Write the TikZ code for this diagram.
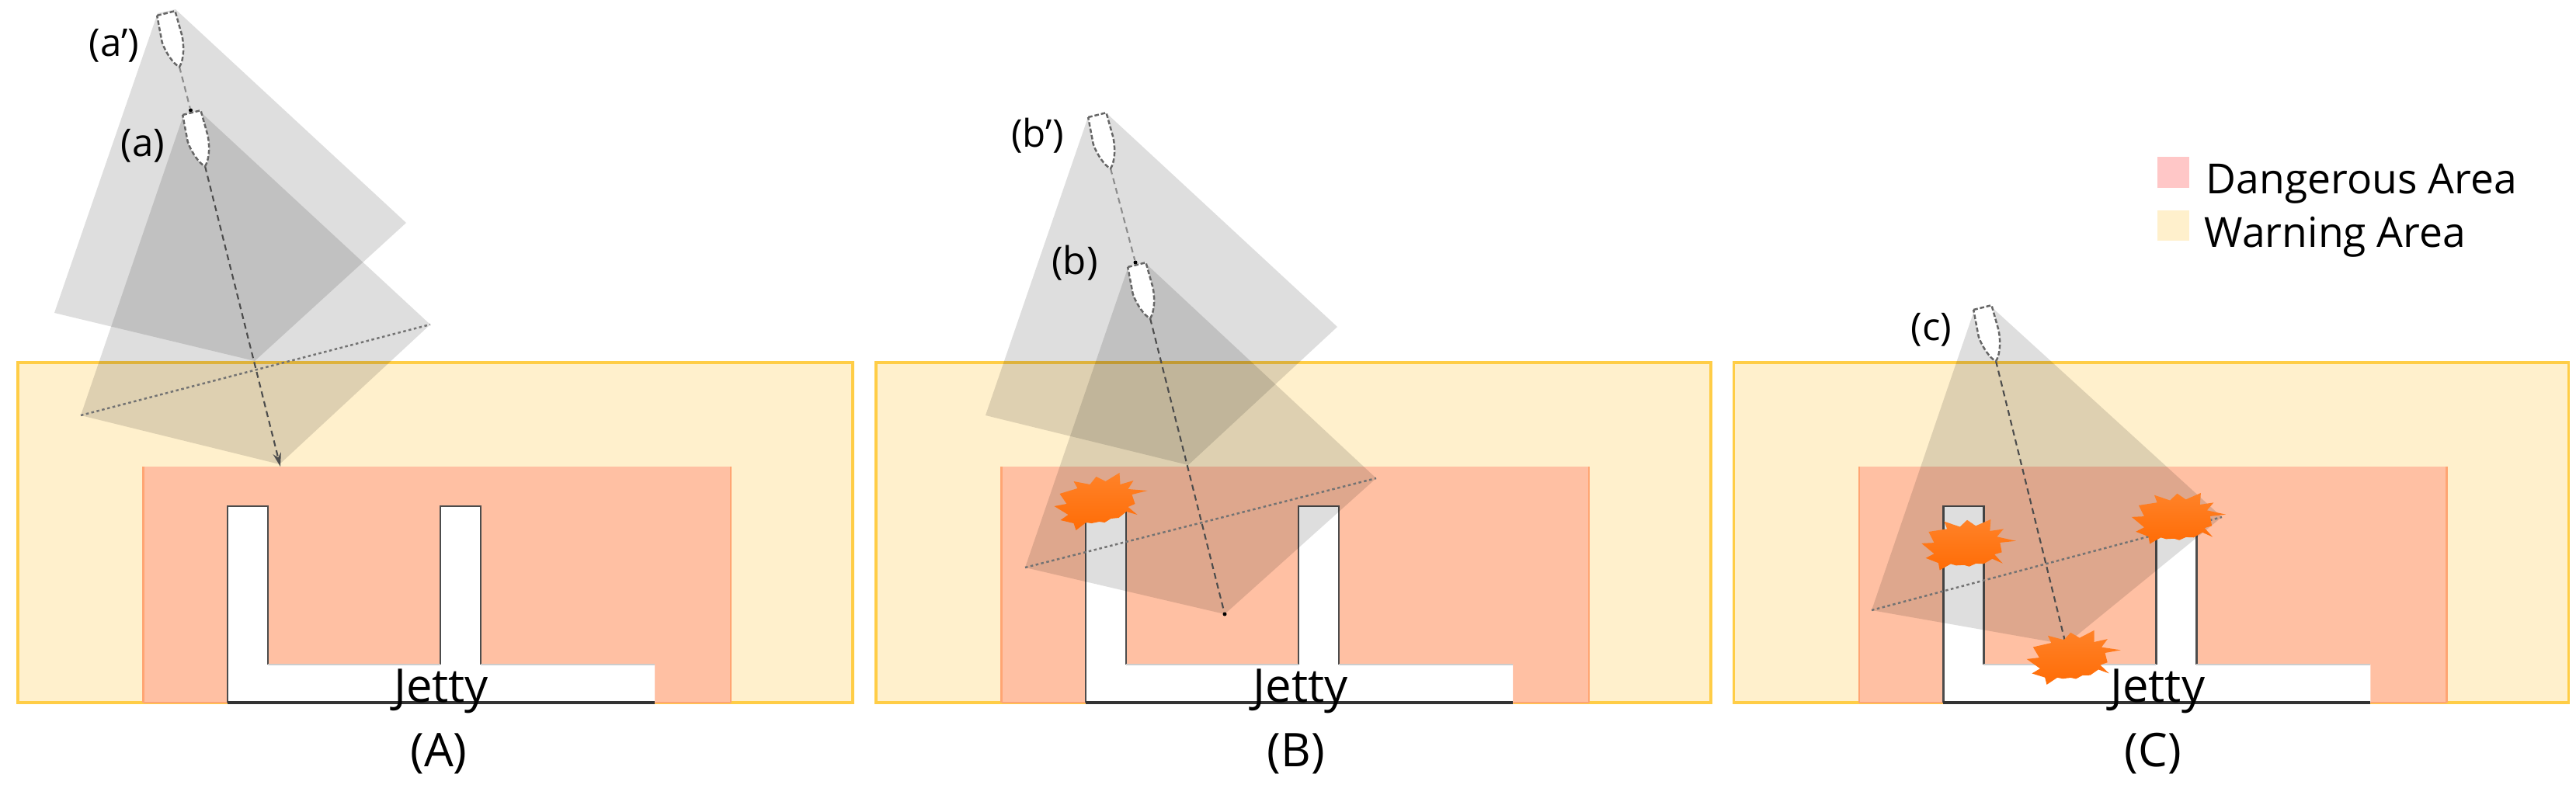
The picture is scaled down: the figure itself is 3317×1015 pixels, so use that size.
\documentclass[tikz,border=0pt]{standalone}
\usepackage{fontspec}
\setmainfont{Open Sans}
\usepackage{xcolor}
\usetikzlibrary{arrows.meta}
\definecolor{WarnFill}{RGB}{255,240,204}
\definecolor{WarnEdge}{RGB}{255,205,70}
\definecolor{DangerFill}{RGB}{255,192,163}
\definecolor{DangerEdge}{RGB}{255,165,115}
\definecolor{BlastTop}{RGB}{255,130,40}
\definecolor{BlastLow}{RGB}{255,108,6}

\begin{document}
\begin{tikzpicture}[
            x=0.01cm, y=-0.01cm,
            warnarea/.style={fill=WarnFill, draw=WarnEdge, line width=1pt},
            dangerarea/.style={fill=DangerFill},
            jettyline/.style={draw=black!70, line width=0.7pt},
            sweep/.style={fill=black, fill opacity=0.13},
            course/.style={draw=black!70, line width=0.6pt, dash pattern=on 2.2pt off 1.5pt},
            abeam/.style={draw=black!55, line width=0.7pt, dash pattern=on 1pt off 1pt},
            tag/.style={font=\fontsize{14}{16}\selectfont, inner sep=0pt},
            panel/.style={font=\fontsize{17}{20}\selectfont, inner sep=0pt},
            keybox/.style={minimum width=0.41cm, minimum height=0.39cm, inner sep=0pt},
            keytext/.style={font=\fontsize{15.2}{18}\selectfont, inner sep=0pt, anchor=base west},
            enddot/.style={circle, fill=black, inner sep=0pt, minimum size=0.05cm},
            ship/.pic={
              \draw[fill=white, draw=black!60, line width=0.7pt, dash pattern=on 1.6pt off 0.8pt]
                (-12,-71) -- (12,-71) -- (13,-38) .. controls (12,-18) and (5,-4) .. (0,0)
                .. controls (-6,-4) and (-13,-22) .. (-14,-36) -- cycle;
            },
            blast/.pic={
              \shade[top color=BlastTop, bottom color=BlastLow]
                (62,-14) -- (42,-9) -- (46,3) -- (37,7) -- (49,17) -- (35,13) -- (25,21) -- (15,22)
                -- (7,27) -- (0,26) -- (-10,28) -- (-17,27) -- (-30,37) -- (-33,28) -- (-50,24)
                -- (-40,17) -- (-58,6) -- (-42,3) -- (-51,-10) -- (-28,-17) -- (-33,-26) -- (-12,-22)
                -- (-4,-32) -- (8,-26) -- (26,-37) -- (27,-22) -- (44,-27) -- (37,-16) -- cycle;
            }
          ]
          \useasboundingbox (0,0) rectangle (3317,1015);

          % Three harbour panels
          \foreach \p/\dx/\jx/\lx in {A/0/568/565, B/11.045/569.5/563.5, C/22.08/569/563} {
            \begin{scope}[xshift=\dx cm]
              \draw[warnarea] (23,467) rectangle (1098,905);
              \fill[dangerarea] (184.5,601) rectangle (941,905);
              \draw[DangerEdge, line width=0.7pt] (184.5,905) -- (184.5,601) (941,601) -- (941,905)
                    (184.5,905) -- (941,905);
              \fill[white] (293,652) -- (345,652) -- (345,856) -- (567,856) -- (567,652) -- (619,652)
                    -- (619,856) -- (843,856) -- (843,905) -- (293,905) -- cycle;
              \draw[jettyline] (293,905) -- (293,652) -- (345,652) -- (345,856);
              \draw[jettyline] (567,856) -- (567,652) -- (619,652) -- (619,856);
              \draw[black!80, line width=1pt] (293,905) -- (843,905);
              \draw[black!20, line width=0.6pt] (345,856) -- (567,856) (619,856) -- (843,856);
              \node[panel, anchor=base] (jetty\p) at (\jx,904) {Jetty};
              \node[panel] (name\p) at (\lx,971) {(\p)};
            \end{scope}
          }

          % Sweep areas ahead of the ships
          \fill[sweep] (203,17) -- (226,12) -- (523,287) -- (328,465) -- (70,403) -- cycle;
          \fill[sweep] (236,149) -- (258,144) -- (554,418) -- (360,598) -- (104,535) -- cycle;
          \fill[sweep] (1401,151) -- (1425,146) -- (1722,421) -- (1530,599) -- (1269,535) -- cycle;
          \fill[sweep] (1452,346) -- (1476,340) -- (1772,616) -- (1577,791) -- (1320,731) -- cycle;
          \fill[sweep] (2542,400) -- (2565,396) -- (2861,666) -- (2660,830) -- (2410,786) -- cycle;

          % Ship centre lines
          \coordinate (tipa1) at (231,86);
          \coordinate (tipa) at (264,214);
          \coordinate (tipb1) at (1430,217);
          \coordinate (tipb) at (1481,410);
          \coordinate (tipc) at (2570,465);
          \node[enddot] (dota1) at (245.5,142) {};
          \node[enddot] (dotb1) at (1462,338) {};
          \node[enddot] (dotb) at (1577,791) {};
          \coordinate (enda) at (361,601);
          \coordinate (endc) at (2660,830);
          \draw[course, draw=black!45] (tipa1) -- (dota1);
          \draw[course, draw=black!45] (tipb1) -- (dotb1);
          \draw[course, -{Stealth[length=5pt, width=3pt]}] (tipa) -- (enda);
          \draw[course] (tipb) -- (dotb);
          \draw[course] (tipc) -- (endc);

          % Beam lines
          \coordinate (porta) at (104,535);
          \coordinate (stba) at (554,418);
          \coordinate (portb) at (1320,731);
          \coordinate (stbb) at (1772,616);
          \coordinate (portc) at (2410,786);
          \coordinate (stbc) at (2861,666);
          \draw[abeam] (porta) -- (stba);
          \draw[abeam] (portb) -- (stbb);
          \draw[abeam] (portc) -- (stbc);

          % Ships
          \foreach \s/\x/\y in {a1/231/86, a/264/214, b1/1430/217, b/1481/410, c/2570/465} {
            \pic[rotate=14] (ship\s) at (\x,\y) {ship};
          }
          \node[tag] (laba1) at (147,59) {(a’)};
          \node[tag] (laba) at (184,188) {(a)};
          \node[tag] (labb1) at (1336,175) {(b’)};
          \node[tag] (labb) at (1384,339) {(b)};
          \node[tag] (labc) at (2487,425) {(c)};

          % Collisions
          \foreach \h/\x/\y/\r in {b/1415.5/646/0, c1/2532.5/702/-8, c2/2803/668/-8, c3/2668/847/-4} {
            \pic[rotate=\r] (hit\h) at (\x,\y) {blast};
          }

          % Legend
          \node[keybox, fill=red!22!white] (keydanger) at (2798.5,222) {};
          \node[keybox, fill=WarnFill] (keywarn) at (2798.5,290.5) {};
          \node[keytext] (txtdanger) at (2840,249) {Dangerous Area};
          \node[keytext] (txtwarn) at (2838,318) {Warning Area};
        \end{tikzpicture}
\end{document}
